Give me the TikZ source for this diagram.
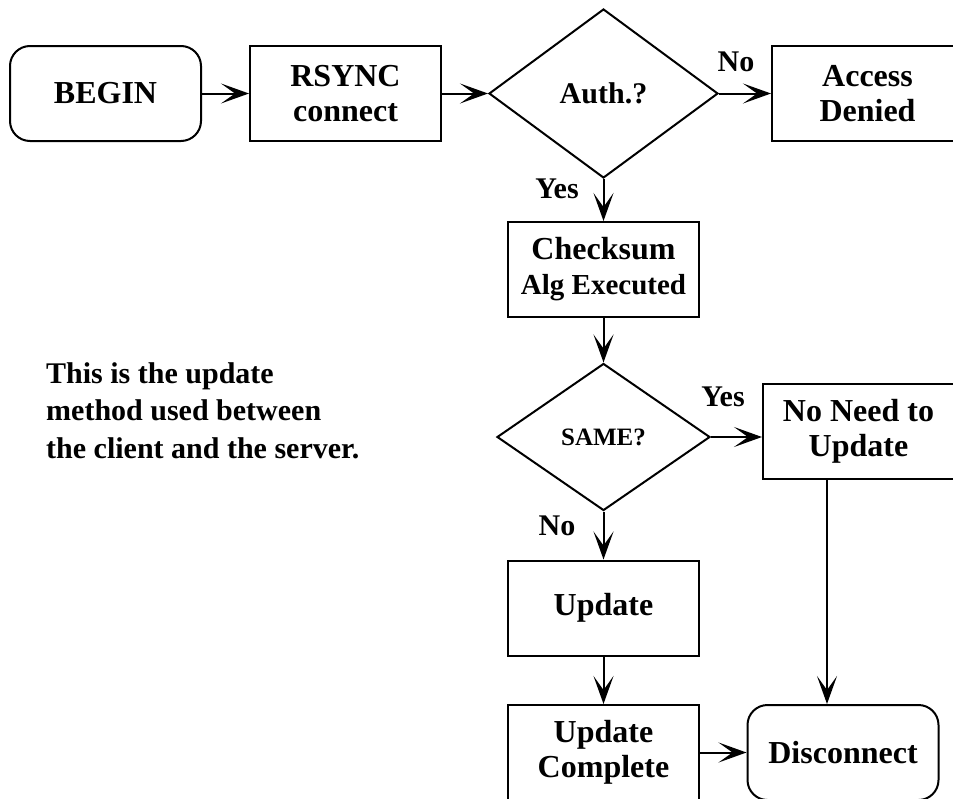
\documentclass[tikz,border=0pt]{standalone}
\usepackage{fontspec}
\setmainfont{Liberation Serif}
\usetikzlibrary{shapes.geometric,arrows.meta}
\tikzset{
    proc/.style={draw, rectangle, line width=2pt, minimum width=191pt, minimum height=95pt, inner sep=0pt, align=center, font=\fontsize{32}{35}\selectfont\bfseries},
    term/.style={proc, rounded corners=20pt},
    decide/.style={draw, diamond, line width=2pt, inner sep=0pt, align=center},
    lbl/.style={font=\fontsize{30}{36}\selectfont\bfseries},
    arr/.style={-{Stealth[length=28pt, width=20pt, inset=14pt]}, line width=2pt}
}
\begin{document}
\begin{tikzpicture}[x=1pt, y=-1pt]
        \useasboundingbox (0, 0) rectangle (953, 798);
        \clip (0, 0) rectangle (953, 798);
        \node[term] (begin) at (105.5, 93.5) {BEGIN};
        \node[proc] (rsync) at (345.5, 93.5) {RSYNC\\connect};
        \node[decide, minimum width=229pt, minimum height=169pt, font=\fontsize{30}{35}\selectfont\bfseries] (auth) at (603.5, 93.5) {Auth.?};
        \node[proc] (denied) at (867.5, 93.5) {Access\\Denied};
        \node[proc] (check) at (603.5, 269.5) {Checksum\\{\fontsize{29}{33}\selectfont Alg Executed}};
        \node[decide, minimum width=213pt, minimum height=147pt, font=\fontsize{25}{30}\selectfont\bfseries] (same) at (603.5, 437) {SAME?};
        \node[proc] (noneed) at (858.5, 431) {No Need to\\Update};
        \node[proc] (update) at (603.5, 608) {Update};
        \node[proc] (updc) at (603.5, 752.5) {Update\\Complete};
        \node[term] (disc) at (843, 752.5) {Disconnect};
        \coordinate (discin) at ([xshift=-16pt]disc.north);
        \draw[arr] (begin) -- (rsync);
        \draw[arr] (rsync) -- (auth);
        \draw[arr] (auth) -- (denied);
        \draw[arr] (auth) -- (check);
        \draw[arr] (check) -- (same);
        \draw[arr] (same.east) -- (same.east -| noneed.west);
        \draw[arr] (same) -- (update);
        \draw[arr] (update) -- (updc);
        \draw[arr] (updc) -- (disc);
        \draw[arr] (noneed.south -| discin) -- (discin);
        \node[lbl] (authno) at (736, 62) {No};
        \node[lbl] (authyes) at (557, 189) {Yes};
        \node[lbl] (sameyes) at (723, 397) {Yes};
        \node[lbl] (sameno) at (557, 526) {No};
        \node[lbl, anchor=north west, inner sep=0pt, align=left, font=\fontsize{30}{37.5}\selectfont\bfseries] (note) at (46, 362) {This is the update\\method used between\\the client and the server.};
    \end{tikzpicture}
\end{document}
